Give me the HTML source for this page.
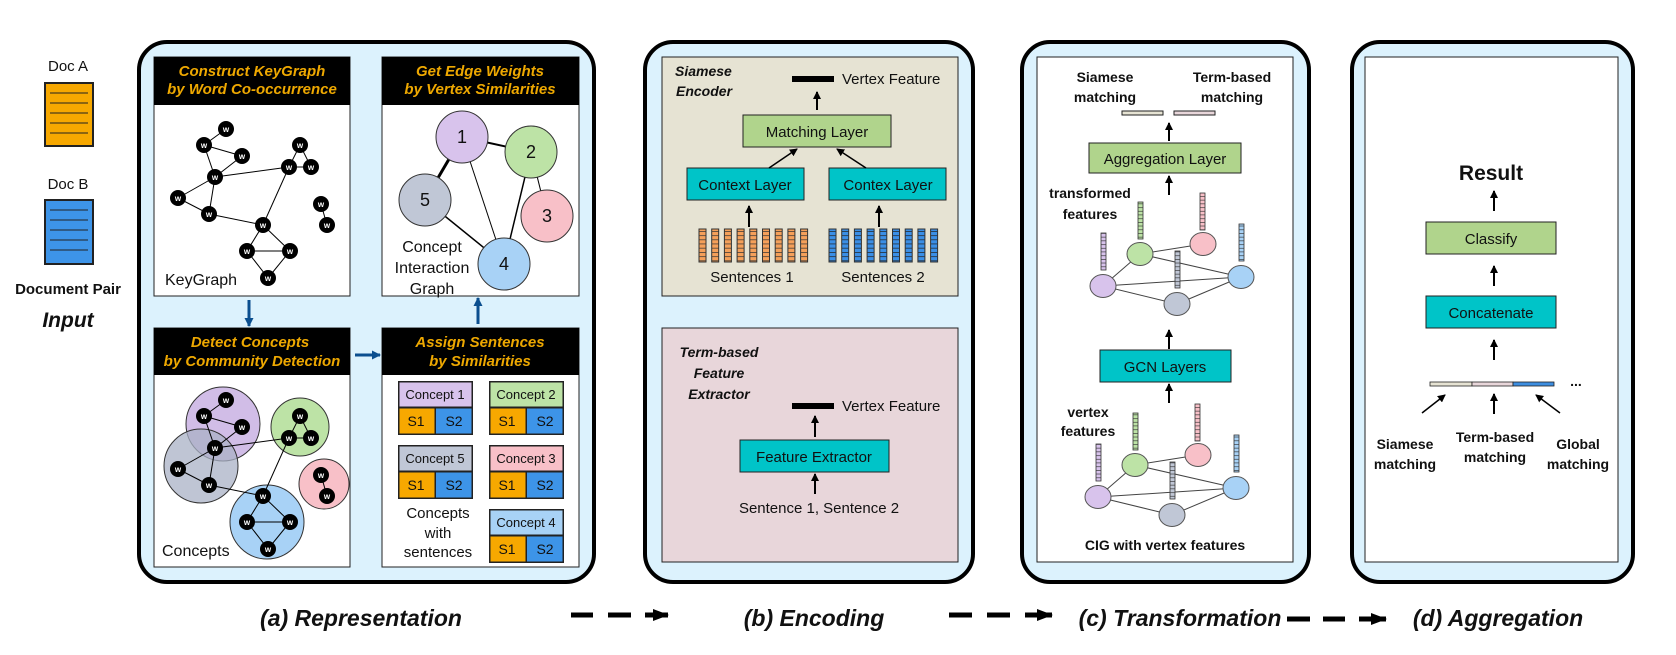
<!DOCTYPE html>
<html><head><meta charset="utf-8"><style>
html,body{margin:0;padding:0;background:#fff;}
svg{display:block;font-family:"Liberation Sans",Arial,sans-serif;}
.hd{font-weight:bold;font-style:italic;fill:#eea800;font-size:15px;text-anchor:middle;}
.cap{font-weight:bold;font-style:italic;font-size:23px;text-anchor:middle;fill:#111;}
.t15{font-size:15px;fill:#111;}
.b15{font-size:15px;font-weight:bold;fill:#111;}
.bi{font-size:15px;font-weight:bold;font-style:italic;fill:#111;}
.w{font-size:8px;font-weight:bold;fill:#fff;text-anchor:middle;}
</style></head><body>
<svg width="1676" height="655" viewBox="0 0 1676 655" xmlns="http://www.w3.org/2000/svg">
<defs>
<marker id="ah" markerWidth="8" markerHeight="8" refX="7" refY="4" orient="auto" markerUnits="userSpaceOnUse"><path d="M0,0 L8,4 L0,8 z" fill="#000"/></marker>
<marker id="ahb" markerWidth="9" markerHeight="9" refX="8" refY="4.5" orient="auto" markerUnits="userSpaceOnUse"><path d="M0,0 L9,4.5 L0,9 z" fill="#0b4f8f"/></marker>
<marker id="ahd" markerWidth="16" markerHeight="12" refX="15" refY="6" orient="auto" markerUnits="userSpaceOnUse"><path d="M0,0 L16,6 L0,12 z" fill="#000"/></marker>
<pattern id="po" width="7" height="4.2" patternUnits="userSpaceOnUse"><rect width="7" height="4.2" fill="#f5a05a"/><line x1="0" y1="0.3" x2="7" y2="0.3" stroke="#333" stroke-width="0.8"/></pattern>
<pattern id="pb" width="7" height="4.2" patternUnits="userSpaceOnUse"><rect width="7" height="4.2" fill="#3b8fe6"/><line x1="0" y1="0.3" x2="7" y2="0.3" stroke="#222" stroke-width="0.8"/></pattern>
<pattern id="cells" width="5" height="3.7" patternUnits="userSpaceOnUse"><line x1="0" y1="0.3" x2="5" y2="0.3" stroke="#333" stroke-width="0.7"/></pattern>
</defs>

<!-- Input docs -->
<text x="68" y="71" class="t15" text-anchor="middle">Doc A</text>
<rect x="45" y="83" width="48" height="63" fill="#f7a800" stroke="#222" stroke-width="2"/>
<g stroke="#222" stroke-width="1"><line x1="50" y1="93" x2="88" y2="93"/><line x1="50" y1="103" x2="88" y2="103"/><line x1="50" y1="113" x2="88" y2="113"/><line x1="50" y1="123" x2="88" y2="123"/><line x1="50" y1="133" x2="88" y2="133"/></g>
<text x="68" y="189" class="t15" text-anchor="middle">Doc B</text>
<rect x="45" y="200" width="48" height="64" fill="#3d94e8" stroke="#222" stroke-width="2"/>
<g stroke="#222" stroke-width="1"><line x1="50" y1="210" x2="88" y2="210"/><line x1="50" y1="220" x2="88" y2="220"/><line x1="50" y1="230" x2="88" y2="230"/><line x1="50" y1="240" x2="88" y2="240"/><line x1="50" y1="250" x2="88" y2="250"/></g>
<text x="68" y="294" class="b15" text-anchor="middle">Document Pair</text>
<text x="68" y="327" class="bi" style="font-size:21px" text-anchor="middle">Input</text>

<!-- Panel a -->
<rect x="139" y="42" width="455" height="540" rx="28" fill="#dcf2fd" stroke="#000" stroke-width="4"/>
<rect x="154" y="57" width="196" height="239" fill="#fff" stroke="#222" stroke-width="1"/>
<rect x="154" y="57" width="196" height="48" fill="#000"/>
<text x="252" y="76" class="hd">Construct KeyGraph</text>
<text x="252" y="94" class="hd">by Word Co-occurrence</text>
<g stroke="#000" stroke-width="1">
<line x1="226" y1="129" x2="204" y2="145"/><line x1="204" y1="145" x2="242" y2="156"/><line x1="204" y1="145" x2="215" y2="177"/><line x1="242" y1="156" x2="215" y2="177"/><line x1="215" y1="177" x2="289" y2="167"/><line x1="215" y1="177" x2="178" y2="198"/><line x1="215" y1="177" x2="209" y2="214"/><line x1="178" y1="198" x2="209" y2="214"/><line x1="209" y1="214" x2="263" y2="225"/><line x1="263" y1="225" x2="289" y2="167"/><line x1="300" y1="145" x2="289" y2="167"/><line x1="300" y1="145" x2="311" y2="167"/><line x1="289" y1="167" x2="311" y2="167"/><line x1="321" y1="204" x2="327" y2="225"/><line x1="263" y1="225" x2="247" y2="251"/><line x1="263" y1="225" x2="290" y2="251"/><line x1="247" y1="251" x2="290" y2="251"/><line x1="247" y1="251" x2="268" y2="278"/><line x1="290" y1="251" x2="268" y2="278"/>
</g>
<g>
<circle cx="226" cy="129" r="8"/><circle cx="204" cy="145" r="8"/><circle cx="242" cy="156" r="8"/><circle cx="215" cy="177" r="8"/><circle cx="178" cy="198" r="8"/><circle cx="209" cy="214" r="8"/><circle cx="263" cy="225" r="8"/><circle cx="300" cy="145" r="8"/><circle cx="289" cy="167" r="8"/><circle cx="311" cy="167" r="8"/><circle cx="321" cy="204" r="8"/><circle cx="327" cy="225" r="8"/><circle cx="247" cy="251" r="8"/><circle cx="290" cy="251" r="8"/><circle cx="268" cy="278" r="8"/>
</g>
<g>
<text x="226" y="132" class="w">w</text><text x="204" y="148" class="w">w</text><text x="242" y="159" class="w">w</text><text x="215" y="180" class="w">w</text><text x="178" y="201" class="w">w</text><text x="209" y="217" class="w">w</text><text x="263" y="228" class="w">w</text><text x="300" y="148" class="w">w</text><text x="289" y="170" class="w">w</text><text x="311" y="170" class="w">w</text><text x="321" y="207" class="w">w</text><text x="327" y="228" class="w">w</text><text x="247" y="254" class="w">w</text><text x="290" y="254" class="w">w</text><text x="268" y="281" class="w">w</text>
</g>
<text x="165" y="285" class="t15" style="font-size:16px">KeyGraph</text>

<!-- CIG -->
<rect x="382" y="57" width="197" height="239" fill="#fff" stroke="#222" stroke-width="1"/>
<rect x="382" y="57" width="197" height="48" fill="#000"/>
<text x="480" y="76" class="hd">Get Edge Weights</text>
<text x="480" y="94" class="hd">by Vertex Similarities</text>
<g stroke="#000">
<line x1="462" y1="137" x2="531" y2="152" stroke-width="2"/>
<line x1="462" y1="137" x2="425" y2="200" stroke-width="3"/>
<line x1="462" y1="137" x2="504" y2="264" stroke-width="1"/>
<line x1="531" y1="152" x2="504" y2="264" stroke-width="1.5"/>
<line x1="531" y1="152" x2="547" y2="216" stroke-width="1"/>
<line x1="425" y1="200" x2="504" y2="264" stroke-width="1.5"/>
</g>
<g stroke="#333" stroke-width="1">
<circle cx="462" cy="137" r="26" fill="#d8c3ec"/>
<circle cx="531" cy="152" r="26" fill="#bde3a6"/>
<circle cx="547" cy="216" r="26" fill="#f8c0c8"/>
<circle cx="425" cy="200" r="26" fill="#c0c7d6"/>
<circle cx="504" cy="264" r="26" fill="#a8d2f6"/>
</g>
<g class="t15" style="font-size:18px" text-anchor="middle">
<text x="462" y="143">1</text><text x="531" y="158">2</text><text x="547" y="222">3</text><text x="425" y="206">5</text><text x="504" y="270">4</text>
</g>
<g class="t15" style="font-size:16px" text-anchor="middle">
<text x="432" y="252">Concept</text><text x="432" y="273">Interaction</text><text x="432" y="294">Graph</text>
</g>

<line x1="249" y1="300" x2="249" y2="326" stroke="#0b4f8f" stroke-width="3" marker-end="url(#ahb)"/>
<line x1="355" y1="355" x2="380" y2="355" stroke="#0b4f8f" stroke-width="3" marker-end="url(#ahb)"/>
<line x1="478" y1="324" x2="478" y2="298" stroke="#0b4f8f" stroke-width="3" marker-end="url(#ahb)"/>

<!-- Community -->
<rect x="154" y="328" width="196" height="239" fill="#fff" stroke="#222" stroke-width="1"/>
<rect x="154" y="328" width="196" height="47" fill="#000"/>
<text x="250" y="347" class="hd">Detect Concepts</text>
<text x="252" y="366" class="hd">by Community Detection</text>
<g stroke="#333" stroke-width="1">
<circle cx="223" cy="424" r="37" fill="#c9b1e3" fill-opacity="0.85"/>
<circle cx="201" cy="466" r="37" fill="#a9b1c6" fill-opacity="0.75"/>
<circle cx="300" cy="427" r="29" fill="#bde3a6"/>
<circle cx="324" cy="484" r="25" fill="#f8c0c8"/>
<circle cx="267" cy="522" r="37" fill="#a8d2f6"/>
</g>
<g transform="translate(0,271)">
<g stroke="#000" stroke-width="1">
<line x1="226" y1="129" x2="204" y2="145"/><line x1="204" y1="145" x2="242" y2="156"/><line x1="204" y1="145" x2="215" y2="177"/><line x1="242" y1="156" x2="215" y2="177"/><line x1="215" y1="177" x2="289" y2="167"/><line x1="215" y1="177" x2="178" y2="198"/><line x1="215" y1="177" x2="209" y2="214"/><line x1="178" y1="198" x2="209" y2="214"/><line x1="209" y1="214" x2="263" y2="225"/><line x1="263" y1="225" x2="289" y2="167"/><line x1="300" y1="145" x2="289" y2="167"/><line x1="300" y1="145" x2="311" y2="167"/><line x1="289" y1="167" x2="311" y2="167"/><line x1="321" y1="204" x2="327" y2="225"/><line x1="263" y1="225" x2="247" y2="251"/><line x1="263" y1="225" x2="290" y2="251"/><line x1="247" y1="251" x2="290" y2="251"/><line x1="247" y1="251" x2="268" y2="278"/><line x1="290" y1="251" x2="268" y2="278"/>
</g>
<circle cx="226" cy="129" r="8"/><circle cx="204" cy="145" r="8"/><circle cx="242" cy="156" r="8"/><circle cx="215" cy="177" r="8"/><circle cx="178" cy="198" r="8"/><circle cx="209" cy="214" r="8"/><circle cx="263" cy="225" r="8"/><circle cx="300" cy="145" r="8"/><circle cx="289" cy="167" r="8"/><circle cx="311" cy="167" r="8"/><circle cx="321" cy="204" r="8"/><circle cx="327" cy="225" r="8"/><circle cx="247" cy="251" r="8"/><circle cx="290" cy="251" r="8"/><circle cx="268" cy="278" r="8"/>
<text x="226" y="132" class="w">w</text><text x="204" y="148" class="w">w</text><text x="242" y="159" class="w">w</text><text x="215" y="180" class="w">w</text><text x="178" y="201" class="w">w</text><text x="209" y="217" class="w">w</text><text x="263" y="228" class="w">w</text><text x="300" y="148" class="w">w</text><text x="289" y="170" class="w">w</text><text x="311" y="170" class="w">w</text><text x="321" y="207" class="w">w</text><text x="327" y="228" class="w">w</text><text x="247" y="254" class="w">w</text><text x="290" y="254" class="w">w</text><text x="268" y="281" class="w">w</text>
</g>
<text x="162" y="556" class="t15" style="font-size:16px">Concepts</text>

<!-- Assign sentences -->
<rect x="382" y="328" width="197" height="239" fill="#fff" stroke="#222" stroke-width="1"/>
<rect x="382" y="328" width="197" height="47" fill="#000"/>
<text x="480" y="347" class="hd">Assign Sentences</text>
<text x="480" y="366" class="hd">by Similarities</text>
<g font-size="13" fill="#111">
<g transform="translate(398,381)"><rect width="75" height="54" fill="#222"/><rect x="1.5" y="1.5" width="72" height="24" fill="#d8c3ec"/><rect x="1.5" y="27.5" width="35" height="25" fill="#f7a800"/><rect x="38" y="27.5" width="35.5" height="25" fill="#3d94e8"/><text x="37" y="18" text-anchor="middle">Concept 1</text><text x="18" y="45" text-anchor="middle" font-size="14">S1</text><text x="56" y="45" text-anchor="middle" font-size="14">S2</text></g>
<g transform="translate(489,381)"><rect width="75" height="54" fill="#222"/><rect x="1.5" y="1.5" width="72" height="24" fill="#bde3a6"/><rect x="1.5" y="27.5" width="35" height="25" fill="#f7a800"/><rect x="38" y="27.5" width="35.5" height="25" fill="#3d94e8"/><text x="37" y="18" text-anchor="middle">Concept 2</text><text x="18" y="45" text-anchor="middle" font-size="14">S1</text><text x="56" y="45" text-anchor="middle" font-size="14">S2</text></g>
<g transform="translate(398,445)"><rect width="75" height="54" fill="#222"/><rect x="1.5" y="1.5" width="72" height="24" fill="#c0c7d6"/><rect x="1.5" y="27.5" width="35" height="25" fill="#f7a800"/><rect x="38" y="27.5" width="35.5" height="25" fill="#3d94e8"/><text x="37" y="18" text-anchor="middle">Concept 5</text><text x="18" y="45" text-anchor="middle" font-size="14">S1</text><text x="56" y="45" text-anchor="middle" font-size="14">S2</text></g>
<g transform="translate(489,445)"><rect width="75" height="54" fill="#222"/><rect x="1.5" y="1.5" width="72" height="24" fill="#f8c0c8"/><rect x="1.5" y="27.5" width="35" height="25" fill="#f7a800"/><rect x="38" y="27.5" width="35.5" height="25" fill="#3d94e8"/><text x="37" y="18" text-anchor="middle">Concept 3</text><text x="18" y="45" text-anchor="middle" font-size="14">S1</text><text x="56" y="45" text-anchor="middle" font-size="14">S2</text></g>
<g transform="translate(489,509)"><rect width="75" height="54" fill="#222"/><rect x="1.5" y="1.5" width="72" height="24" fill="#a8d2f6"/><rect x="1.5" y="27.5" width="35" height="25" fill="#f7a800"/><rect x="38" y="27.5" width="35.5" height="25" fill="#3d94e8"/><text x="37" y="18" text-anchor="middle">Concept 4</text><text x="18" y="45" text-anchor="middle" font-size="14">S1</text><text x="56" y="45" text-anchor="middle" font-size="14">S2</text></g>
</g>
<g class="t15" text-anchor="middle"><text x="438" y="518">Concepts</text><text x="438" y="538">with</text><text x="438" y="557">sentences</text></g>
<text x="361" y="626" class="cap">(a) Representation</text>

<g stroke="#000" stroke-width="5">
<line x1="571" y1="615" x2="593" y2="615"/><line x1="608" y1="615" x2="631" y2="615"/><line x1="645" y1="615" x2="668" y2="615" marker-end="url(#ahd)"/>
<line x1="949" y1="615" x2="972" y2="615"/><line x1="987" y1="615" x2="1010" y2="615"/><line x1="1025" y1="615" x2="1052" y2="615" marker-end="url(#ahd)"/>
<line x1="1287" y1="619" x2="1310" y2="619"/><line x1="1323" y1="619" x2="1345" y2="619"/><line x1="1359" y1="619" x2="1386" y2="619" marker-end="url(#ahd)"/>
</g>

<!-- Panel b -->
<rect x="645" y="42" width="328" height="540" rx="28" fill="#dcf2fd" stroke="#000" stroke-width="4"/>
<rect x="662" y="57" width="296" height="239" fill="#e6e3d3" stroke="#222" stroke-width="1"/>
<text x="675" y="76" class="bi" style="font-size:14px">Siamese</text>
<text x="676" y="96" class="bi" style="font-size:14px">Encoder</text>
<rect x="792" y="76" width="42" height="6" fill="#000"/>
<text x="842" y="84" class="t15">Vertex Feature</text>
<line x1="817" y1="110" x2="817" y2="92" stroke="#000" stroke-width="2" marker-end="url(#ah)"/>
<rect x="743" y="115" width="148" height="32" fill="#b0d48c" stroke="#222"/>
<text x="817" y="137" class="t15" text-anchor="middle">Matching Layer</text>
<rect x="687" y="168" width="117" height="32" fill="#00c4c8" stroke="#222"/>
<text x="745" y="190" class="t15" text-anchor="middle">Context Layer</text>
<rect x="829" y="168" width="117" height="32" fill="#00c4c8" stroke="#222"/>
<text x="888" y="190" class="t15" text-anchor="middle">Contex Layer</text>
<line x1="769" y1="168" x2="797" y2="149" stroke="#000" stroke-width="1.5" marker-end="url(#ah)"/>
<line x1="866" y1="168" x2="837" y2="149" stroke="#000" stroke-width="1.5" marker-end="url(#ah)"/>
<line x1="749" y1="227" x2="749" y2="206" stroke="#000" stroke-width="2" marker-end="url(#ah)"/>
<line x1="879" y1="227" x2="879" y2="206" stroke="#000" stroke-width="2" marker-end="url(#ah)"/>
<g stroke="#333" stroke-width="1">
<rect x="699" y="229" width="7" height="33" fill="url(#po)"/><rect x="711.7" y="229" width="7" height="33" fill="url(#po)"/><rect x="724.4" y="229" width="7" height="33" fill="url(#po)"/><rect x="737.1" y="229" width="7" height="33" fill="url(#po)"/><rect x="749.8" y="229" width="7" height="33" fill="url(#po)"/><rect x="762.5" y="229" width="7" height="33" fill="url(#po)"/><rect x="775.2" y="229" width="7" height="33" fill="url(#po)"/><rect x="787.9" y="229" width="7" height="33" fill="url(#po)"/><rect x="800.6" y="229" width="7" height="33" fill="url(#po)"/>
<rect x="829" y="229" width="7" height="33" fill="url(#pb)"/><rect x="841.7" y="229" width="7" height="33" fill="url(#pb)"/><rect x="854.4" y="229" width="7" height="33" fill="url(#pb)"/><rect x="867.1" y="229" width="7" height="33" fill="url(#pb)"/><rect x="879.8" y="229" width="7" height="33" fill="url(#pb)"/><rect x="892.5" y="229" width="7" height="33" fill="url(#pb)"/><rect x="905.2" y="229" width="7" height="33" fill="url(#pb)"/><rect x="917.9" y="229" width="7" height="33" fill="url(#pb)"/><rect x="930.6" y="229" width="7" height="33" fill="url(#pb)"/>
</g>
<text x="752" y="282" class="t15" text-anchor="middle">Sentences 1</text>
<text x="883" y="282" class="t15" text-anchor="middle">Sentences 2</text>

<rect x="662" y="328" width="296" height="234" fill="#e8d6da" stroke="#222" stroke-width="1"/>
<g class="bi" style="font-size:14px" text-anchor="middle"><text x="719" y="357">Term-based</text><text x="719" y="378">Feature</text><text x="719" y="399">Extractor</text></g>
<rect x="792" y="403" width="42" height="6" fill="#000"/>
<text x="842" y="411" class="t15">Vertex Feature</text>
<line x1="815" y1="437" x2="815" y2="416" stroke="#000" stroke-width="2" marker-end="url(#ah)"/>
<rect x="740" y="440" width="149" height="32" fill="#00c4c8" stroke="#222"/>
<text x="814" y="462" class="t15" text-anchor="middle">Feature Extractor</text>
<line x1="815" y1="494" x2="815" y2="474" stroke="#000" stroke-width="2" marker-end="url(#ah)"/>
<text x="819" y="513" class="t15" text-anchor="middle">Sentence 1, Sentence 2</text>
<text x="814" y="626" class="cap">(b) Encoding</text>

<!-- Panel c -->
<rect x="1022" y="42" width="287" height="540" rx="28" fill="#dcf2fd" stroke="#000" stroke-width="4"/>
<rect x="1037" y="57" width="256" height="505" fill="#fff" stroke="#222" stroke-width="1"/>
<g class="b15" style="font-size:14px" text-anchor="middle"><text x="1105" y="82">Siamese</text><text x="1105" y="102">matching</text><text x="1232" y="82">Term-based</text><text x="1232" y="102">matching</text></g>
<rect x="1122" y="111" width="41" height="4" fill="#e6e3d3" stroke="#222" stroke-width="1"/>
<rect x="1174" y="111" width="41" height="4" fill="#e8d6da" stroke="#222" stroke-width="1"/>
<line x1="1169" y1="141" x2="1169" y2="123" stroke="#000" stroke-width="2" marker-end="url(#ah)"/>
<rect x="1089" y="143" width="152" height="30" fill="#b0d48c" stroke="#222"/>
<text x="1165" y="164" class="t15" text-anchor="middle">Aggregation Layer</text>
<line x1="1169" y1="195" x2="1169" y2="176" stroke="#000" stroke-width="2" marker-end="url(#ah)"/>
<g class="b15" style="font-size:14px" text-anchor="middle"><text x="1090" y="198">transformed</text><text x="1090" y="219">features</text></g>

<g>
<g stroke="#444" stroke-width="1"><line x1="1103" y1="286" x2="1140" y2="254"/><line x1="1103" y1="286" x2="1241" y2="277"/><line x1="1103" y1="286" x2="1177" y2="304"/><line x1="1140" y1="254" x2="1203" y2="244"/><line x1="1140" y1="254" x2="1241" y2="277"/><line x1="1177" y1="304" x2="1241" y2="277"/></g>
<g stroke="#555" stroke-width="1">
<ellipse cx="1103" cy="286" rx="13" ry="11.5" fill="#d8c3ec"/><ellipse cx="1140" cy="254" rx="13" ry="11.5" fill="#bde3a6"/><ellipse cx="1203" cy="244" rx="13" ry="11.5" fill="#f8c0c8"/><ellipse cx="1241" cy="277" rx="13" ry="11.5" fill="#a8d2f6"/><ellipse cx="1177" cy="304" rx="13" ry="11.5" fill="#c0c7d6"/>
</g>
<g stroke="#333" stroke-width="0.8">
<rect x="1101" y="233" width="5" height="37" fill="#d8c3ec"/><rect x="1138" y="202" width="5" height="37" fill="#bde3a6"/><rect x="1200" y="193" width="5" height="37" fill="#f8c0c8"/><rect x="1175" y="251" width="5" height="37" fill="#c0c7d6"/><rect x="1239" y="224" width="5" height="37" fill="#a8d2f6"/>
</g>
<g fill="url(#cells)">
<rect x="1101" y="233" width="5" height="37"/><rect x="1138" y="202" width="5" height="37"/><rect x="1200" y="193" width="5" height="37"/><rect x="1175" y="251" width="5" height="37"/><rect x="1239" y="224" width="5" height="37"/>
</g>
</g>
<line x1="1169" y1="349" x2="1169" y2="330" stroke="#000" stroke-width="2" marker-end="url(#ah)"/>
<rect x="1100" y="350" width="131" height="32" fill="#00c4c8" stroke="#222"/>
<text x="1165" y="372" class="t15" text-anchor="middle">GCN Layers</text>
<line x1="1169" y1="403" x2="1169" y2="384" stroke="#000" stroke-width="2" marker-end="url(#ah)"/>
<g class="b15" style="font-size:14px" text-anchor="middle"><text x="1088" y="417">vertex</text><text x="1088" y="436">features</text></g>
<g transform="translate(-5,211)">
<g stroke="#444" stroke-width="1"><line x1="1103" y1="286" x2="1140" y2="254"/><line x1="1103" y1="286" x2="1241" y2="277"/><line x1="1103" y1="286" x2="1177" y2="304"/><line x1="1140" y1="254" x2="1203" y2="244"/><line x1="1140" y1="254" x2="1241" y2="277"/><line x1="1177" y1="304" x2="1241" y2="277"/></g>
<g stroke="#555" stroke-width="1">
<ellipse cx="1103" cy="286" rx="13" ry="11.5" fill="#d8c3ec"/><ellipse cx="1140" cy="254" rx="13" ry="11.5" fill="#bde3a6"/><ellipse cx="1203" cy="244" rx="13" ry="11.5" fill="#f8c0c8"/><ellipse cx="1241" cy="277" rx="13" ry="11.5" fill="#a8d2f6"/><ellipse cx="1177" cy="304" rx="13" ry="11.5" fill="#c0c7d6"/>
</g>
<g stroke="#333" stroke-width="0.8">
<rect x="1101" y="233" width="5" height="37" fill="#d8c3ec"/><rect x="1138" y="202" width="5" height="37" fill="#bde3a6"/><rect x="1200" y="193" width="5" height="37" fill="#f8c0c8"/><rect x="1175" y="251" width="5" height="37" fill="#c0c7d6"/><rect x="1239" y="224" width="5" height="37" fill="#a8d2f6"/>
</g>
<g fill="url(#cells)">
<rect x="1101" y="233" width="5" height="37"/><rect x="1138" y="202" width="5" height="37"/><rect x="1200" y="193" width="5" height="37"/><rect x="1175" y="251" width="5" height="37"/><rect x="1239" y="224" width="5" height="37"/>
</g>
</g>
<text x="1165" y="550" class="b15" style="font-size:14px" text-anchor="middle">CIG with vertex features</text>
<text x="1180" y="626" class="cap">(c) Transformation</text>

<!-- Panel d -->
<rect x="1352" y="42" width="281" height="540" rx="28" fill="#dcf2fd" stroke="#000" stroke-width="4"/>
<rect x="1365" y="57" width="253" height="505" fill="#fff" stroke="#222" stroke-width="1"/>
<text x="1491" y="180" class="b15" style="font-size:21px" text-anchor="middle">Result</text>
<line x1="1494" y1="211" x2="1494" y2="191" stroke="#000" stroke-width="2" marker-end="url(#ah)"/>
<rect x="1426" y="222" width="130" height="32" fill="#b0d48c" stroke="#222"/>
<text x="1491" y="244" class="t15" text-anchor="middle">Classify</text>
<line x1="1494" y1="286" x2="1494" y2="266" stroke="#000" stroke-width="2" marker-end="url(#ah)"/>
<rect x="1426" y="296" width="130" height="32" fill="#00c4c8" stroke="#222"/>
<text x="1491" y="318" class="t15" text-anchor="middle">Concatenate</text>
<line x1="1494" y1="360" x2="1494" y2="340" stroke="#000" stroke-width="2" marker-end="url(#ah)"/>
<rect x="1430" y="382" width="42" height="4" fill="#e6e3d3" stroke="#222" stroke-width="0.8"/>
<rect x="1472" y="382" width="41" height="4" fill="#e8d6da" stroke="#222" stroke-width="0.8"/>
<rect x="1513" y="382" width="41" height="4" fill="#3d8ee0" stroke="#222" stroke-width="0.8"/>
<text x="1576" y="386" class="b15" style="font-size:14px" text-anchor="middle">...</text>
<line x1="1422" y1="413" x2="1445" y2="395" stroke="#000" stroke-width="1.5" marker-end="url(#ah)"/>
<line x1="1494" y1="414" x2="1494" y2="394" stroke="#000" stroke-width="2" marker-end="url(#ah)"/>
<line x1="1560" y1="413" x2="1536" y2="395" stroke="#000" stroke-width="1.5" marker-end="url(#ah)"/>
<g class="b15" style="font-size:14px" text-anchor="middle"><text x="1405" y="449">Siamese</text><text x="1405" y="469">matching</text><text x="1495" y="442">Term-based</text><text x="1495" y="462">matching</text><text x="1578" y="449">Global</text><text x="1578" y="469">matching</text></g>
<text x="1498" y="626" class="cap">(d) Aggregation</text>
</svg>
</body></html>
